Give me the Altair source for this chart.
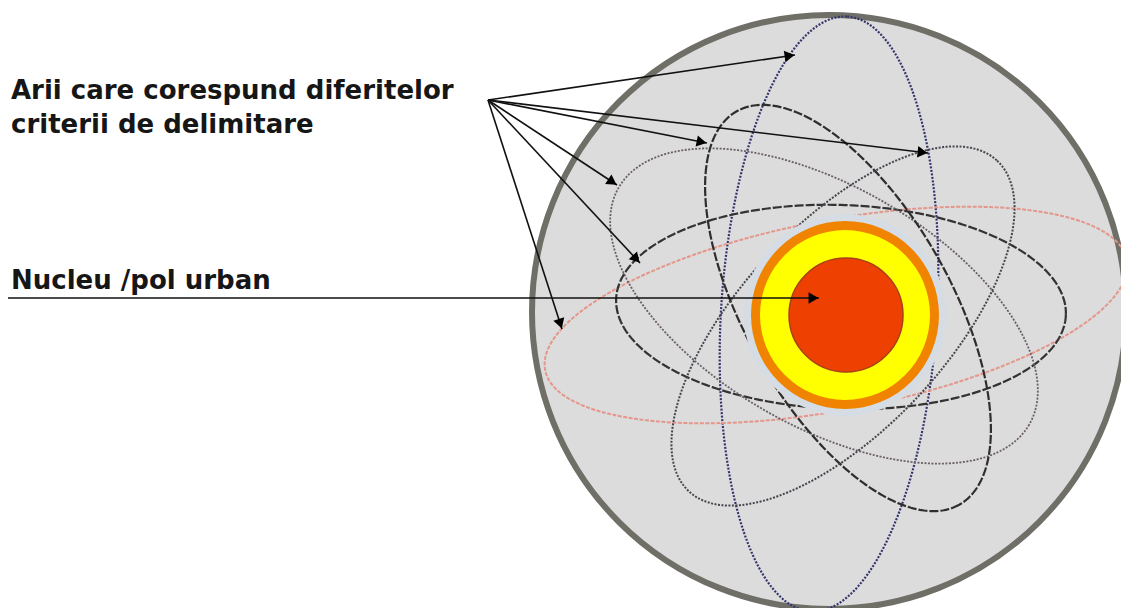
import altair as alt
import numpy as np
import pandas as pd

# ---------------- diagram values (pixel space of the drawing) ----------------
X_DOMAIN = [8, 1121]
Y_DOMAIN = [8, 608]

# circles: outer territory and the urban nucleus (centre x, centre y, radius)
circle_names = ["teritoriu", "halo", "inel", "coroana", "nucleu"]
circle_cx = [829, 845, 845, 845, 846]
circle_cy = [312, 315, 315, 315, 315]
circle_r = [297, 101, 94, 85, 57]

# ellipses: areas for the different delimitation criteria
ellipse_names = ["A", "B", "C", "D", "E", "F"]
ellipse_cx = [829, 836, 841, 824, 848, 843]
ellipse_cy = [314, 315, 307, 306, 308, 326]
ellipse_a = [298, 296, 225, 237, 226, 226]
ellipse_b = [108, 95, 102, 120, 103, 103]
ellipse_rot = [-86.5, -10.7, 2, 30, 60.5, -47]

# arrows
arrow_src_x = [488, 488, 488, 488, 488, 488, 8]
arrow_src_y = [100, 100, 100, 100, 100, 100, 298]
arrow_tip_x = [795, 707, 928, 617, 640, 562, 819]
arrow_tip_y = [55, 143, 153, 185, 263, 329, 298]

# labels
label_texts = ["Arii care corespund diferitelor", "criterii de delimitare", "Nucleu /pol urban"]
label_x = [11, 11, 11]
label_y = [99, 133, 289]

# ---------------- styles ----------------
circle_fill = ["#dcdcdc", "#d5dce4", "#f08300", "#ffff00", "#ee4000"]
circle_stroke = ["#6f6f67", "#d5dce4", "#f08300", "#ffff00", "#a8401a"]
circle_sw = [6, 0, 0, 0, 1.5]

ellipse_color = ["#34346e", "#e4968a", "#333333", "#6a5f68", "#2e2e2e", "#45454e"]
ellipse_dash = [[2, 1.5], [4, 1.5], [9, 2], [2, 1.5], [9, 2], [2, 1.5]]
ellipse_width = [2.2, 2, 2.2, 1.8, 2.2, 2]

FONT = "DejaVu Sans"

xs = alt.Scale(domain=X_DOMAIN, nice=False, zero=False)
ys = alt.Scale(domain=Y_DOMAIN, nice=False, zero=False, reverse=True)


def X(f="x"):
    return alt.X(f"{f}:Q", scale=xs, axis=None)


def Y(f="y"):
    return alt.Y(f"{f}:Q", scale=ys, axis=None)


layers = []


def circle_layer(i):
    df = pd.DataFrame({"x": [circle_cx[i]], "y": [circle_cy[i]],
                       "s": [(2 * circle_r[i]) ** 2], "n": [circle_names[i]]})
    return alt.Chart(df).mark_point(
        shape="circle", filled=True, fill=circle_fill[i], stroke=circle_stroke[i],
        strokeWidth=circle_sw[i], opacity=1
    ).encode(x=X(), y=Y(), size=alt.Size("s:Q", scale=None, legend=None))


layers.append(circle_layer(0))

# ellipses
t = np.linspace(0, 2 * np.pi, 361)
for k in range(len(ellipse_names)):
    th = np.deg2rad(ellipse_rot[k])
    ex = ellipse_cx[k] + ellipse_a[k] * np.cos(t) * np.cos(th) - ellipse_b[k] * np.sin(t) * np.sin(th)
    ey = ellipse_cy[k] + ellipse_a[k] * np.cos(t) * np.sin(th) + ellipse_b[k] * np.sin(t) * np.cos(th)
    df = pd.DataFrame({"x": ex, "y": ey, "i": np.arange(len(t))})
    layers.append(
        alt.Chart(df).mark_line(
            color=ellipse_color[k], strokeDash=ellipse_dash[k],
            strokeWidth=ellipse_width[k], interpolate="linear"
        ).encode(x=X(), y=Y(), order=alt.Order("i:Q"))
    )

# nucleus
for i in range(1, len(circle_names)):
    layers.append(circle_layer(i))

# arrows
adf = pd.DataFrame({"x": arrow_src_x, "y": arrow_src_y, "x2": arrow_tip_x, "y2": arrow_tip_y})
dx = adf["x2"] - adf["x"]
dy = adf["y2"] - adf["y"]
L = np.sqrt(dx ** 2 + dy ** 2)
head = 5.5
adf["hx"] = adf["x2"] - head * dx / L
adf["hy"] = adf["y2"] - head * dy / L
adf["ang"] = (np.degrees(np.arctan2(dy, dx)) + 360) % 360

layers.append(
    alt.Chart(adf).mark_rule(color="#111111", strokeWidth=1.6).encode(
        x=X(), y=Y(), x2="x2:Q", y2="y2:Q")
)
layers.append(
    alt.Chart(adf).mark_point(shape="triangle-right", filled=True, color="#000000",
                              opacity=1, size=130).encode(
        x=X("hx"), y=Y("hy"), angle=alt.Angle("ang:Q", scale=None))
)

# labels
ldf = pd.DataFrame({"x": label_x, "y": label_y, "t": label_texts})
layers.append(
    alt.Chart(ldf).mark_text(align="left", baseline="alphabetic", font=FONT,
                             fontWeight="bold", fontSize=26, color="#161616").encode(
        x=X(), y=Y(), text="t:N")
)

chart = alt.layer(*layers).properties(
    width=1113, height=600, padding=0, autosize="none", background="white"
).configure_view(stroke=None)

chart.save("out.html", embed_options={"renderer": "svg", "actions": False})
